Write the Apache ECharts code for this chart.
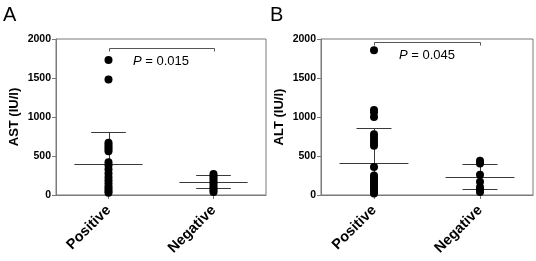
<!DOCTYPE html>
<html>
<head>
<meta charset="utf-8">
<script src="https://cdn.jsdelivr.net/npm/echarts@6/dist/echarts.min.js"></script>
<style>
html,body{margin:0;padding:0;background:#fff;}
#c{width:536px;height:261px;}
</style>
</head>
<body>
<div id="c"></div>
<script>
// ---- data ----
const categories = ['Positive', 'Negative'];
const yTickLabels = [0, 500, 1000, 1500, 2000];

const astPositive = [1730, 1480, 670, 645, 615, 590, 560, 420, 380, 330, 280, 230, 190, 150, 110, 80, 50, 30];
const astNegative = [270, 240, 210, 180, 150, 120, 90, 60, 40];
const altPositive = [1855, 1090, 1060, 1000, 780, 740, 700, 660, 630, 360, 250, 220, 190, 160, 130, 100, 70, 40, 20];
const altNegative = [440, 405, 260, 170, 100, 70, 40];

// [mean, sd] per category
const astMeanSd = [[393, 410], [170, 85]];
const altMeanSd = [[416, 449], [235, 158]];

// bracket: [top, tick end, label y]
const astBracket = [1888, 1850, 1718];
const altBracket = [1965, 1923, 1795];
const astPValue = '0.015';
const altPValue = '0.045';

const panelTitles = ['A', 'B'];
const yNames = ['AST (IU/l)', 'ALT (IU/l)'];

// ---- chart ----
const FONT = 'Liberation Sans, Arial, Helvetica, sans-serif';
const FRAME = '#7a7a7a';
const LINE = '#3a3a3a';

function px(v) { return Math.round(v) + 0.5; }

function errRender(params, api) {
  const cat = api.value(0), mean = api.value(1), sd = api.value(2);
  const band = api.size([1, 0])[0];
  const c = api.coord([cat, mean]);
  const top = api.coord([cat, mean + sd]);
  const lowVal = mean - sd;
  const bot = api.coord([cat, Math.max(lowVal, 0)]);
  const mw = band * 0.325, cw = band * 0.165;
  const x = px(c[0]);
  const st = { stroke: LINE, lineWidth: 1 };
  const children = [
    { type: 'line', shape: { x1: x, y1: px(top[1]), x2: x, y2: px(bot[1]) }, style: st },
    { type: 'line', shape: { x1: c[0] - mw, y1: px(c[1]), x2: c[0] + mw, y2: px(c[1]) }, style: st },
    { type: 'line', shape: { x1: c[0] - cw, y1: px(top[1]), x2: c[0] + cw, y2: px(top[1]) }, style: st }
  ];
  if (lowVal >= 0) {
    children.push({ type: 'line', shape: { x1: c[0] - cw, y1: px(bot[1]), x2: c[0] + cw, y2: px(bot[1]) }, style: st });
  }
  return { type: 'group', children: children };
}

function bracketRender(pText) {
  return function (params, api) {
    const yTop = api.value(1), yTick = api.value(2), yText = api.value(3);
    const a = api.coord([0, yTop]), b = api.coord([1, yTop]);
    const at = api.coord([0, yTick]);
    const tTxt = api.coord([0, yText]);
    const st = { stroke: '#555', lineWidth: 1 };
    const xa = px(a[0]), xb = px(b[0]), yt = px(a[1]), yk = px(at[1]);
    return {
      type: 'group',
      children: [
        { type: 'line', shape: { x1: xa, y1: yt, x2: xb, y2: yt }, style: st },
        { type: 'line', shape: { x1: xa, y1: yt, x2: xa, y2: yk }, style: st },
        { type: 'line', shape: { x1: xb, y1: yt, x2: xb, y2: yk }, style: st },
        {
          type: 'text',
          style: {
            x: (a[0] + b[0]) / 2, y: tTxt[1],
            text: '{p|P} = ' + pText,
            align: 'center', verticalAlign: 'middle',
            fontSize: 13, fontFamily: FONT, fill: '#000',
            rich: { p: { fontStyle: 'italic', fontSize: 13, fontFamily: FONT, fill: '#000' } }
          }
        }
      ]
    };
  };
}

const grids = [
  { left: 56, top: 39, width: 210, height: 156 },
  { left: 321, top: 39, width: 212, height: 156 }
];

const yMin = yTickLabels[0];
const yMax = yTickLabels[yTickLabels.length - 1];
const yInterval = yTickLabels[1] - yTickLabels[0];

function xAxisFor(i) {
  return {
    type: 'category', gridIndex: i, data: categories, boundaryGap: true,
    axisLine: { show: true, lineStyle: { color: FRAME, width: 1 } },
    axisTick: { show: true, alignWithLabel: true, length: 4, lineStyle: { color: FRAME } },
    axisLabel: { rotate: 45, interval: 0, margin: 13, color: '#000', fontWeight: 'bold', fontSize: 14.5, fontFamily: FONT },
    splitLine: { show: false }
  };
}
function yAxisFor(i) {
  return {
    type: 'value', gridIndex: i, min: yMin, max: yMax, interval: yInterval,
    name: yNames[i], nameLocation: 'middle', nameGap: 35,
    nameTextStyle: { color: '#000', fontWeight: 'bold', fontSize: 13, fontFamily: FONT },
    axisLine: { show: true, lineStyle: { color: FRAME, width: 1 } },
    axisTick: { show: true, length: 4, lineStyle: { color: FRAME } },
    axisLabel: { margin: 5, color: '#000', fontWeight: 'bold', fontSize: 10.5, fontFamily: FONT, formatter: v => String(v) },
    splitLine: { show: false }
  };
}

function pts(catIdx, arr) { return arr.map(v => [catIdx, v]); }

const panels = [
  { pos: astPositive, neg: astNegative, ms: astMeanSd, br: astBracket, p: astPValue },
  { pos: altPositive, neg: altNegative, ms: altMeanSd, br: altBracket, p: altPValue }
];

const series = [];
panels.forEach((pn, i) => {
  series.push({
    type: 'custom', xAxisIndex: i, yAxisIndex: i, z: 1, silent: true,
    renderItem: errRender,
    data: pn.ms.map((m, k) => [k, m[0], m[1]])
  });
  series.push({
    type: 'scatter', xAxisIndex: i, yAxisIndex: i, z: 3, silent: true,
    symbol: 'circle', symbolSize: 8,
    itemStyle: { color: '#000', opacity: 1 },
    data: pts(0, pn.pos).concat(pts(1, pn.neg))
  });
  series.push({
    type: 'custom', xAxisIndex: i, yAxisIndex: i, z: 2, silent: true, clip: false,
    renderItem: bracketRender(pn.p),
    data: [[0, pn.br[0], pn.br[1], pn.br[2]]]
  });
});

const chart = echarts.init(document.getElementById('c'), null, { renderer: 'canvas' });
chart.setOption({
  animation: false,
  backgroundColor: '#fff',
  title: [
    { text: panelTitles[0], left: 3, top: 5, padding: 0, textStyle: { fontSize: 20, fontWeight: 'normal', color: '#000', fontFamily: FONT } },
    { text: panelTitles[1], left: 270, top: 5, padding: 0, textStyle: { fontSize: 20, fontWeight: 'normal', color: '#000', fontFamily: FONT } }
  ],
  grid: grids.map(g => Object.assign({ show: true, borderColor: FRAME, borderWidth: 1, backgroundColor: 'transparent' }, g)),
  xAxis: [xAxisFor(0), xAxisFor(1)],
  yAxis: [yAxisFor(0), yAxisFor(1)],
  series: series
});
</script>
</body>
</html>
